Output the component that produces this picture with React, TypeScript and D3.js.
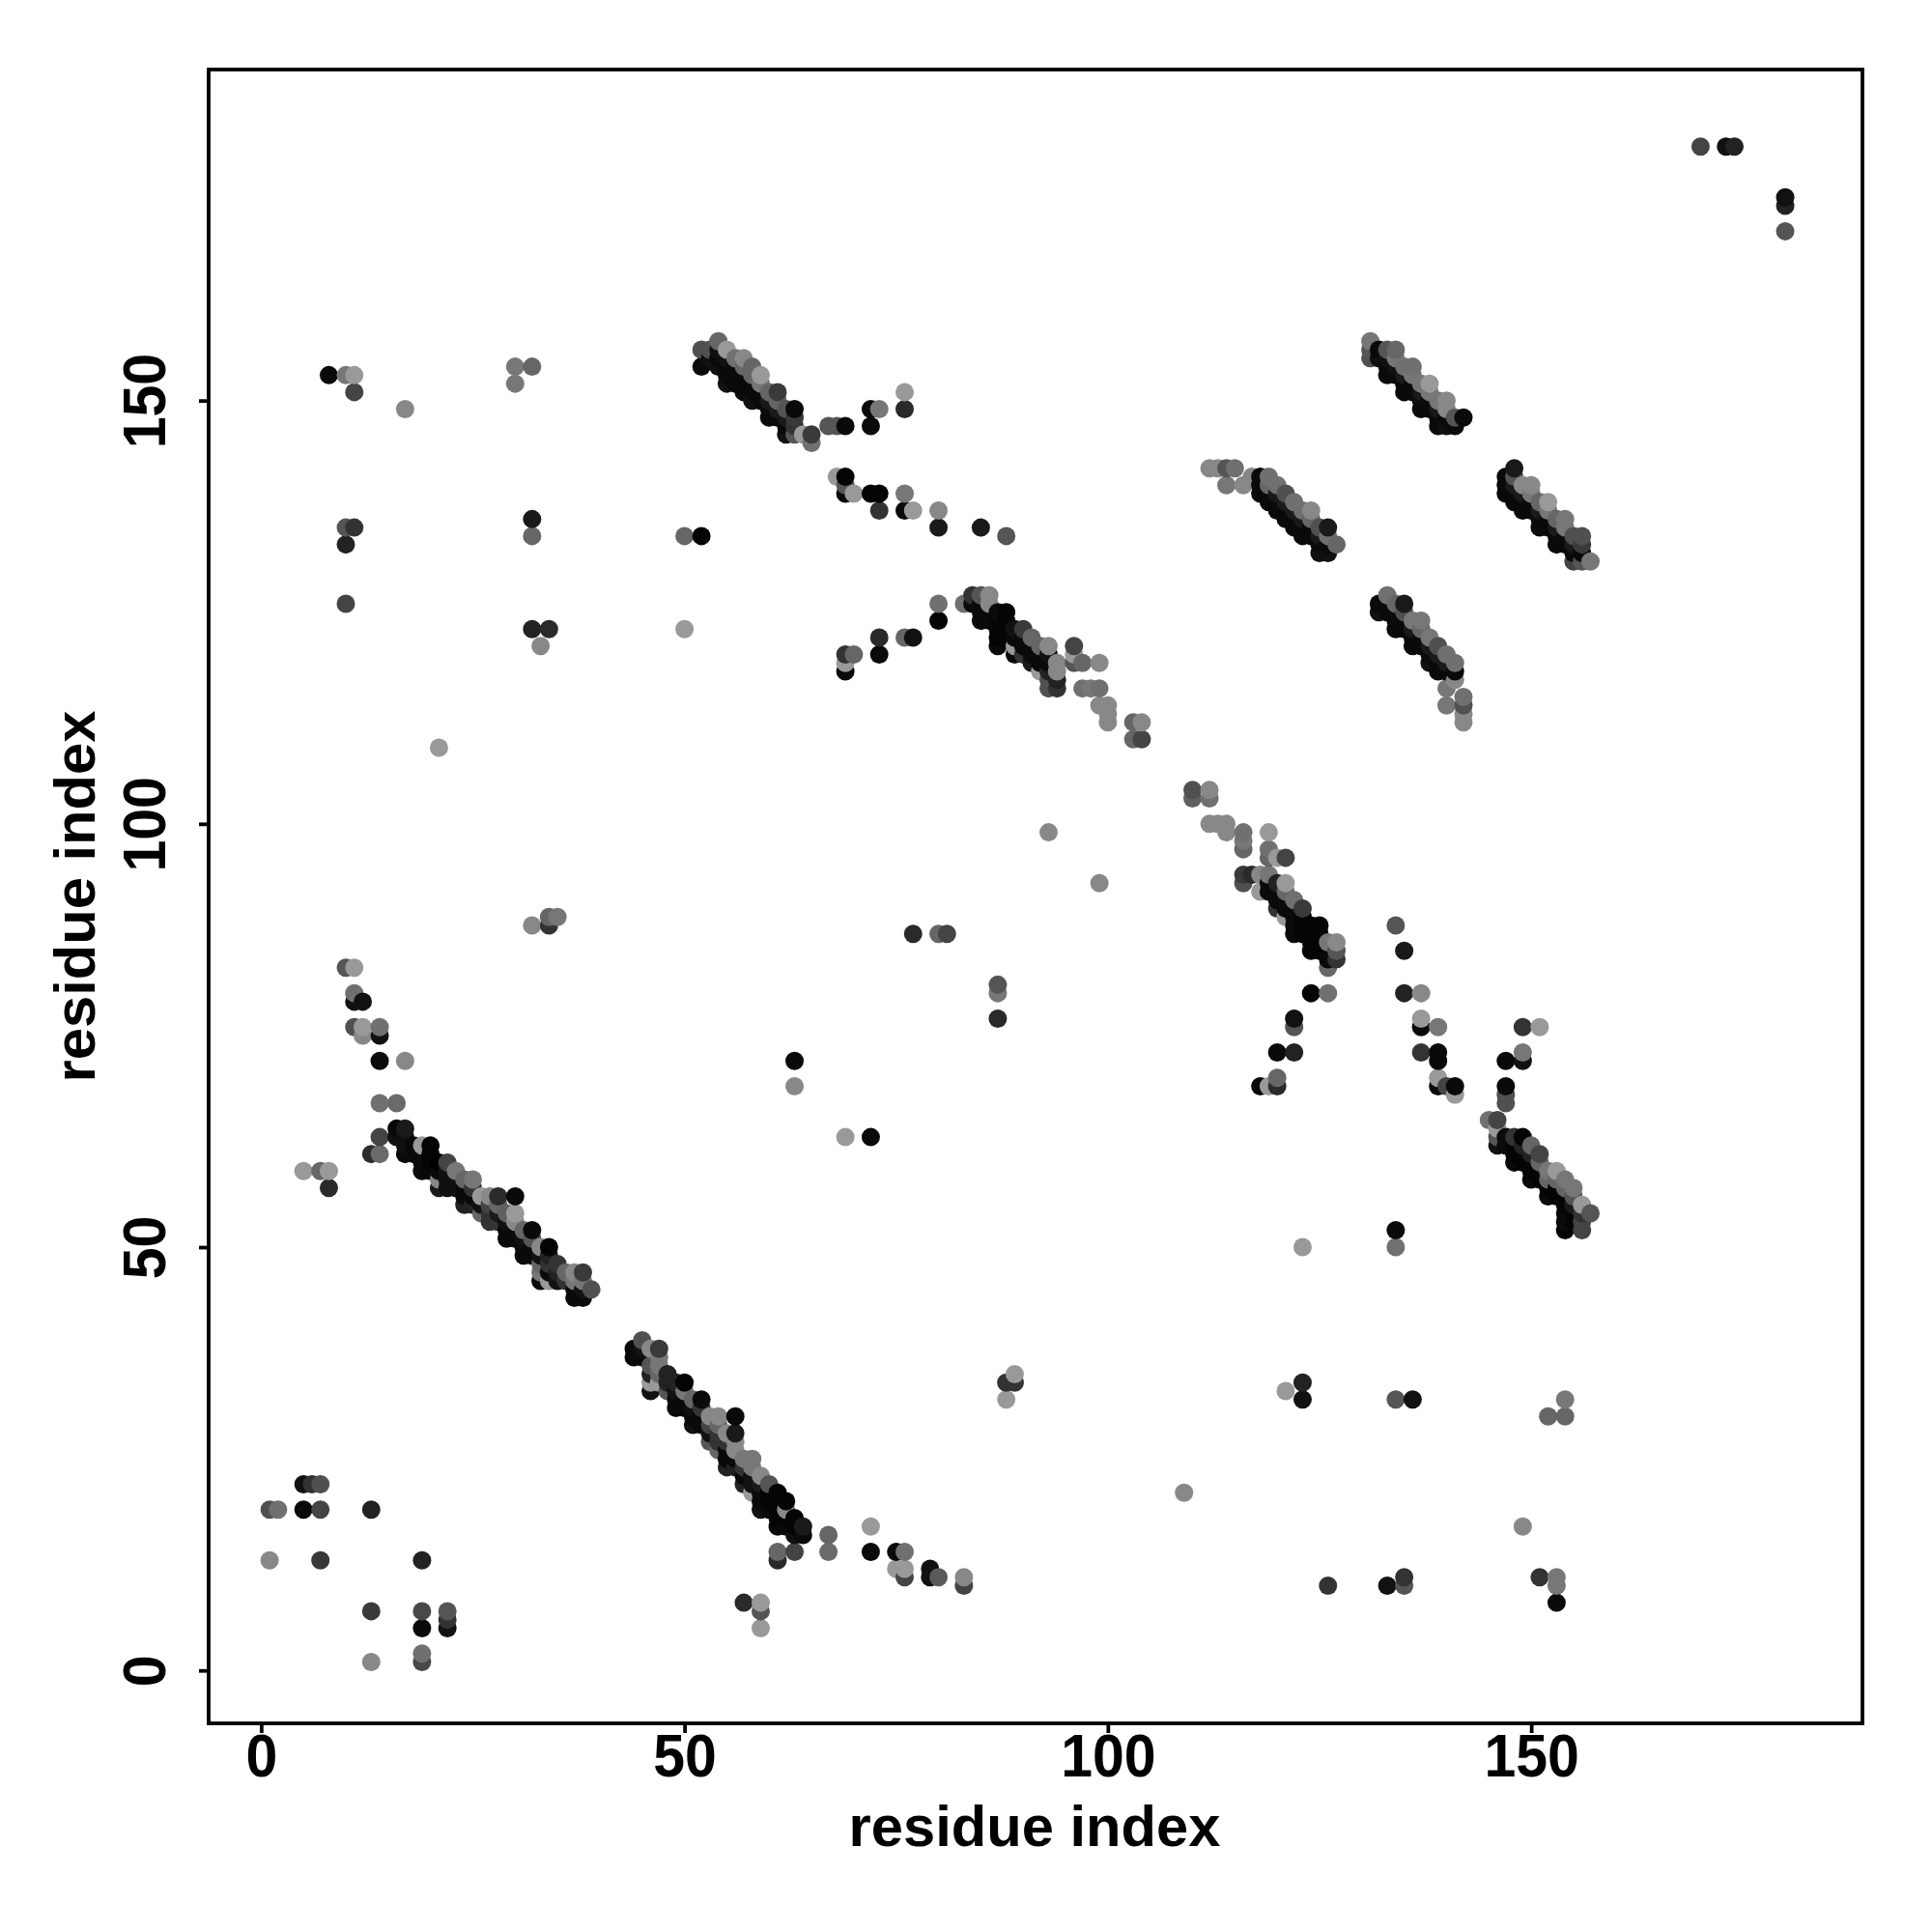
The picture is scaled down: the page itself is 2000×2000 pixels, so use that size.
import React, { useEffect, useRef } from "react";
import * as d3 from "d3";

type Contact = [number, number, number]; // residue i, residue j, score

const cornerLowLeft: Contact[] = [
  [1,19,80],[2,19,112],[1,13,136],[5,22,17],[6,22,51],[7,22,80],[5,19,10],[7,19,68],[7,13,56],
  [13,19,34],[13,7,58],[13,1,136],[19,13,34],[19,7,72],[19,5,10],[19,2,112],[19,1,72],
  [22,7,85],[22,6,51],[22,5,17],
];
const arcLeftUpper: Contact[] = [
  [5,59,153],[7,59,102],[8,59,153],[8,57,42],[10,83,85],[11,83,153],[11,80,112],[11,79,17],[12,79,17],
  [11,76,80],[12,76,153],[12,75,136],[14,76,112],[14,75,17],[14,72,12],[17,72,136],[14,67,112],[16,67,106],
  [14,63,68],[13,61,44],[14,61,106],
];
const strandA: Contact[] = [
  [16,64,8],[16,63,17],[17,64,26],[17,63,17],[17,62,17],[17,61,10],[18,62,8],[18,61,10],
  [19,62,153],[19,61,10],[19,60,10],[19,59,10],[20,62,5],[20,61,5],[20,60,5],[20,59,8],
  [21,60,0],[21,59,10],[21,58,136],[21,57,26],[22,60,68],[22,59,17],[22,58,17],[22,57,17],
  [23,59,119],[23,58,17],[23,57,17],[24,58,102],[24,57,10],[24,56,10],[24,55,34],
  [25,58,119],[25,57,51],[25,56,10],[25,55,34],[26,56,153],[26,55,17],[26,54,102],
  [27,56,136],[27,55,68],[27,54,51],[27,53,51],[28,56,42],[28,55,102],[28,54,26],[28,53,51],
  [29,54,96],[29,53,17],[29,52,10],[29,51,10],[30,56,10],[30,54,153],[30,53,136],[30,52,10],[30,51,10],
  [31,52,102],[31,51,17],[31,50,10],[31,49,10],[32,52,10],[32,51,85],[32,50,10],[32,49,10],
  [33,50,136],[33,49,17],[33,48,102],[33,47,119],[33,46,10],[34,50,5],[34,49,34],[34,48,51],[34,47,10],[34,46,153],
  [35,48,51],[35,47,34],[35,46,17],[36,47,102],[36,46,51],
  [37,47,136],[37,46,119],[37,45,10],[37,44,10],[38,47,58],[38,46,119],[38,45,17],[38,44,10],[39,45,80],
];
const strandB: Contact[] = [
  [44,38,10],[44,37,10],[45,39,80],[45,38,17],[45,37,10],
  [46,38,136],[46,36,85],[46,35,34],[46,34,153],[46,33,17],[47,38,58],[47,37,119],[47,36,119],[47,35,102],[47,34,153],
  [48,35,34],[48,34,34],[48,33,85],[49,34,34],[49,33,17],[49,32,10],[49,31,10],
  [50,34,5],[50,33,119],[50,32,10],[50,31,10],[51,32,102],[51,31,17],[51,30,10],[51,29,17],
  [52,32,10],[52,31,51],[52,30,10],[52,29,10],[53,30,136],[53,29,68],[53,28,17],[53,27,85],
  [54,30,136],[54,29,102],[54,28,51],[54,27,51],[54,26,102],[55,28,136],[55,27,51],[55,26,10],[55,25,10],[55,24,34],
  [56,30,10],[56,28,26],[56,27,136],[56,26,136],[56,25,10],[56,24,34],[57,25,119],[57,24,51],[57,23,10],[57,22,34],
  [58,25,119],[58,24,119],[58,23,17],[58,22,17],[58,21,153],[59,23,136],[59,22,26],[59,21,10],[59,20,10],[59,19,17],
  [60,22,85],[60,21,5],[60,20,5],[60,19,10],[61,21,5],[61,20,5],[61,19,5],[61,18,5],[61,17,10],
  [62,20,5],[62,19,136],[62,18,5],[62,17,10],[63,18,5],[63,17,5],[63,16,17],[64,17,26],[64,16,10],
];
const lowerMiddle: Contact[] = [
  [63,14,68],[61,14,102],[61,13,42],[67,16,102],[67,14,106],[72,17,153],[72,14,10],
  [75,14,10],[76,14,112],[75,12,153],[76,12,153],[76,11,68],[79,12,17],[79,11,17],[80,11,90],
  [83,11,136],[83,10,68],[57,8,42],[59,8,153],[59,7,85],[59,5,153],
  [88,34,51],[89,34,51],[89,35,153],[88,32,153],
];
const strandC: Contact[] = [
  [52,156,80],[52,154,10],[53,156,80],[53,155,17],[54,157,102],[54,156,17],[54,155,10],[54,154,17],
  [55,156,153],[55,155,17],[55,154,10],[55,153,10],[55,152,17],[56,155,112],[56,154,10],[56,153,10],[56,152,10],
  [57,155,136],[57,154,102],[57,153,10],[57,152,10],[57,151,10],[58,154,102],[58,153,102],[58,152,10],[58,151,10],[58,150,17],
  [59,153,153],[59,152,119],[59,151,10],[59,150,10],[60,151,102],[60,150,26],[60,149,10],[60,148,10],
  [61,151,58],[61,150,102],[61,149,26],[61,148,10],[62,149,85],[62,148,26],[62,147,10],[62,146,17],
  [63,149,10],[63,148,58],[63,147,51],[63,146,85],[64,146,153],[65,146,58],[65,145,112],
  [67,147,85],[68,147,85],[69,147,10],[72,149,10],[72,147,10],[73,149,119],[76,151,153],[76,149,42],
  [68,141,153],[69,141,5],[69,140,85],[69,139,10],[70,139,153],[72,139,5],[73,139,5],[73,137,51],
  [76,139,119],[76,137,10],[77,137,153],[80,137,136],[80,135,26],[85,135,26],[88,134,85],
];
const upperLeft: Contact[] = [
  [8,153,10],[10,153,119],[11,153,153],[11,151,68],[17,149,136],[30,154,119],[32,154,102],[30,152,119],
  [10,135,85],[11,135,51],[10,133,34],[10,126,68],[32,136,26],[32,134,102],[32,123,34],[34,123,42],[33,121,136],
  [21,109,153],[50,134,102],[52,134,5],[50,123,153],[32,88,136],[34,88,51],[34,89,102],[35,89,119],
];
const strandD: Contact[] = [
  [69,120,51],[70,120,102],[69,119,153],[69,118,10],[73,122,42],[73,120,10],[76,122,102],[77,122,17],
  [80,126,112],[80,124,5],[83,126,112],[84,127,51],[84,126,10],[85,127,85],[85,126,10],[85,125,10],[85,124,10],
  [86,127,136],[86,126,136],[86,125,10],[86,124,10],[87,125,10],[87,124,5],[87,123,5],[87,122,5],[87,121,10],
  [88,125,5],[88,124,5],[88,123,5],[88,122,5],[89,123,17],[89,122,10],[89,121,153],[89,120,10],
  [90,123,58],[90,122,10],[90,121,10],[90,120,51],[91,122,102],[91,121,10],[91,120,10],[91,119,26],
  [92,121,102],[92,120,10],[92,119,10],[92,118,153],[93,121,136],[93,120,17],[93,119,10],[93,118,34],[93,117,80],[93,116,80],
  [94,119,136],[94,118,136],[94,117,34],[94,116,51],[96,121,68],[96,120,153],[96,119,85],[97,119,102],[99,119,136],
  [97,116,112],[98,116,119],[99,116,112],[99,114,136],[100,114,136],[100,113,136],[100,112,136],
  [103,112,102],[104,112,136],[103,110,102],[104,110,68],[93,99,136],[99,93,136],
];
const strandE: Contact[] = [
  [110,104,80],[110,103,96],[112,104,136],[112,103,112],[112,100,136],[113,100,136],[114,100,136],[114,99,136],
  [116,99,112],[116,98,119],[116,97,102],[119,99,153],[119,97,112],[119,96,102],[120,96,153],[121,96,68],
  [116,94,58],[116,93,80],[117,94,42],[118,94,136],[118,92,153],[119,94,119],[119,93,10],[119,92,10],
  [120,93,34],[120,92,10],[120,91,10],[120,90,51],[121,93,153],[121,92,102],[121,91,10],[121,90,10],[121,89,153],
  [122,91,112],[122,90,10],[122,89,10],[122,88,10],[122,87,10],[123,90,58],[123,89,5],[123,88,5],[123,87,5],
  [124,88,5],[124,87,5],[124,86,5],[124,85,5],[125,88,5],[125,87,5],[125,86,5],[125,85,5],
  [126,86,119],[126,84,10],[126,83,102],[127,86,136],[127,85,85],[127,84,51],
  [124,80,5],[126,80,112],[122,77,17],[122,76,85],[120,73,10],[122,73,34],[118,69,10],[119,69,153],[120,70,102],[120,69,42],
];
const rightMiddle: Contact[] = [
  [134,88,85],[135,85,26],[135,80,34],[137,80,136],[137,77,153],[137,76,10],[139,76,119],[137,73,51],[139,73,10],[139,72,10],
  [139,70,153],[139,69,10],[140,69,68],[141,69,10],[141,68,153],[149,76,51],[151,76,153],[149,73,119],[149,72,17],[147,72,10],
  [147,69,10],[147,68,80],[147,67,80],[63,72,10],[63,69,136],[69,63,153],[72,63,10],[77,87,42],[80,87,102],[81,87,68],
  [87,81,85],[87,80,119],[87,77,42],
];
const strandF: Contact[] = [
  [145,65,112],[146,65,68],[146,64,153],[146,63,85],[146,62,17],[147,63,10],[147,62,10],[148,63,51],[148,62,5],[148,61,5],[148,60,10],
  [149,63,5],[149,62,34],[149,61,5],[149,60,5],[150,62,102],[150,61,34],[150,60,5],[150,59,5],[150,58,10],
  [151,61,68],[151,60,102],[151,59,5],[151,58,5],[152,59,119],[152,58,102],[152,57,5],[152,56,10],
  [153,59,153],[153,58,102],[153,57,5],[153,56,5],[154,58,119],[154,57,102],[154,56,5],[154,55,5],[154,54,10],[154,53,10],[154,52,5],
  [155,57,119],[155,56,85],[155,55,26],[155,54,5],[155,53,5],[156,55,153],[156,54,51],[156,53,68],[156,52,68],[157,54,85],
];
const lowerRight: Contact[] = [
  [109,21,136],[123,50,153],[121,33,153],[123,34,34],[123,32,17],[134,32,85],[136,32,17],[134,52,10],[134,50,112],
  [152,30,102],[154,32,119],[154,30,102],[149,17,136],[151,11,51],[153,11,119],[153,10,119],[153,8,10],
  [126,10,51],[133,10,17],[135,11,51],[135,10,85],
];
const strandG: Contact[] = [
  [112,142,136],[113,142,136],[114,142,85],[115,142,112],[114,140,119],[116,140,136],[117,141,136],
  [118,141,10],[118,140,10],[118,139,10],[119,141,112],[119,140,102],[119,139,10],[119,138,10],
  [120,140,112],[120,139,26],[120,138,10],[120,137,10],[121,139,80],[121,138,26],[121,137,10],[121,136,10],
  [122,138,112],[122,137,26],[122,136,10],[122,135,10],[123,137,112],[123,136,26],[123,135,10],[123,134,10],
  [124,137,136],[124,136,102],[124,135,10],[124,134,10],[125,135,80],[125,134,26],[125,133,10],[125,132,17],
  [126,135,26],[126,134,112],[126,133,10],[126,132,17],[127,133,102],
];
const strandH: Contact[] = [
  [131,157,119],[131,156,85],[131,155,80],[132,156,10],[132,155,17],[133,156,85],[133,155,17],[133,154,10],[133,153,10],
  [134,156,102],[134,155,119],[134,154,17],[134,153,10],[135,154,112],[135,153,26],[135,152,10],[135,151,10],
  [136,154,112],[136,153,119],[136,152,10],[136,151,10],[137,152,119],[137,151,26],[137,150,10],[137,149,10],
  [138,152,153],[138,151,119],[138,150,10],[138,149,10],[139,150,119],[139,149,26],[139,148,10],[139,147,10],
  [140,150,136],[140,149,136],[140,148,10],[140,147,17],[141,148,85],[141,147,10],[142,148,10],
];
const strandI: Contact[] = [
  [132,126,10],[132,125,17],[133,127,112],[133,126,10],[133,125,10],[134,126,102],[134,125,10],[134,124,10],[134,123,10],
  [135,126,26],[135,125,80],[135,124,10],[135,123,10],[136,124,119],[136,123,26],[136,122,10],[136,121,10],
  [137,124,119],[137,123,102],[137,122,10],[137,121,10],[138,122,119],[138,121,26],[138,120,10],[138,119,17],
  [139,121,80],[139,120,26],[139,119,10],[139,118,10],[140,120,112],[140,119,26],[140,118,10],[140,116,119],[140,114,119],
  [141,119,112],[141,118,10],[141,117,136],[142,115,112],[142,114,80],[142,113,136],[142,112,136],
];
const strandJ: Contact[] = [
  [147,141,10],[147,140,10],[147,139,10],[148,142,26],[148,141,85],[148,140,26],[148,139,10],[148,138,10],
  [149,140,136],[149,139,26],[149,138,10],[149,137,10],[150,140,136],[150,139,119],[150,138,10],[150,137,10],
  [151,138,102],[151,137,26],[151,136,10],[151,135,10],[152,138,153],[152,137,119],[152,136,10],[152,135,10],
  [153,136,102],[153,135,26],[153,134,10],[153,133,10],[154,136,119],[154,135,119],[154,134,10],[154,133,10],
  [155,134,80],[155,133,26],[155,132,10],[155,131,68],[156,134,80],[156,133,58],[156,132,10],[156,131,85],[157,131,119],
];
const topRight: Contact[] = [
  [170,180,68],[173,180,17],[174,180,34],[180,174,17],[180,173,34],[180,170,85],
];

const xTicks = [0, 50, 100, 150];
const yTicks = [0, 50, 100, 150];
const axisLabel = "residue index";

const contacts: Contact[] = [
  ...cornerLowLeft, ...arcLeftUpper, ...strandA, ...strandB, ...lowerMiddle, ...strandC, ...upperLeft,
  ...strandD, ...strandE, ...rightMiddle, ...strandF, ...lowerRight, ...strandG, ...strandH, ...strandI,
  ...strandJ, ...topRight,
];

const FONT = "'Liberation Sans', Arial, sans-serif";

const App: React.FC = () => {
  const svgRef = useRef<SVGSVGElement>(null);

  useEffect(() => {
    if (!svgRef.current) return;

    const left = 216;
    const right = 1928;
    const top = 72;
    const bottom = 1784;

    const svg = d3.select(svgRef.current);
    svg.selectAll("*").remove();

    const x = d3.scaleLinear().domain([-6.2, 189.12]).range([left, right]);
    const y = d3.scaleLinear().domain([-6.25, 189.1]).range([bottom, top]);
    const gray = d3.scaleLinear<string>().domain([0, 255]).range(["#000000", "#ffffff"]);

    // later residues are painted over earlier ones
    const sorted = [...contacts].sort(
      (a, b) => d3.ascending(a[0], b[0]) || d3.ascending(a[1], b[1])
    );

    svg
      .append("g")
      .selectAll("circle")
      .data(sorted)
      .enter()
      .append("circle")
      .attr("cx", (d) => x(d[0]))
      .attr("cy", (d) => y(d[1]))
      .attr("r", 9.5)
      .attr("fill", (d) => gray(d[2]));

    svg
      .append("rect")
      .attr("x", left)
      .attr("y", top)
      .attr("width", right - left)
      .attr("height", bottom - top)
      .attr("fill", "none")
      .attr("stroke", "#000")
      .attr("stroke-width", 3.8);

    const xAxis = svg
      .append("g")
      .attr("transform", `translate(0,${bottom})`)
      .call(d3.axisBottom(x).tickValues(xTicks).tickSize(10));
    xAxis.select(".domain").remove();
    xAxis.selectAll("line").attr("stroke", "#000").attr("stroke-width", 3.8);
    xAxis
      .selectAll("text")
      .attr("fill", "#000")
      .attr("font-family", FONT)
      .attr("font-weight", "bold")
      .attr("font-size", 59)
      .attr("y", null)
      .attr("dy", null)
      .attr("transform", "translate(0,55) scale(1,1.06)");

    const yAxis = svg
      .append("g")
      .attr("transform", `translate(${left},0)`)
      .call(d3.axisLeft(y).tickValues(yTicks).tickSize(10));
    yAxis.select(".domain").remove();
    yAxis.selectAll("line").attr("stroke", "#000").attr("stroke-width", 3.8);
    yAxis
      .selectAll("text")
      .attr("fill", "#000")
      .attr("font-family", FONT)
      .attr("font-weight", "bold")
      .attr("font-size", 59)
      .attr("text-anchor", "middle")
      .attr("dy", null)
      .attr("x", null)
      .attr("transform", "translate(-45,0) rotate(-90) scale(1,1.06)");

    svg
      .append("text")
      .attr("x", 1071)
      .attr("y", 1911)
      .attr("text-anchor", "middle")
      .attr("font-family", FONT)
      .attr("font-weight", "bold")
      .attr("font-size", 59.7)
      .text(axisLabel);

    svg
      .append("text")
      .attr("transform", `translate(98,${(top + bottom) / 2}) rotate(-90)`)
      .attr("text-anchor", "middle")
      .attr("font-family", FONT)
      .attr("font-weight", "bold")
      .attr("font-size", 59.7)
      .text(axisLabel);
  }, []);

  return (
    <svg
      ref={svgRef}
      width={2000}
      height={2000}
      style={{ position: "absolute", left: 0, top: 0, background: "#fff" }}
    ></svg>
  );
};

export default App;
